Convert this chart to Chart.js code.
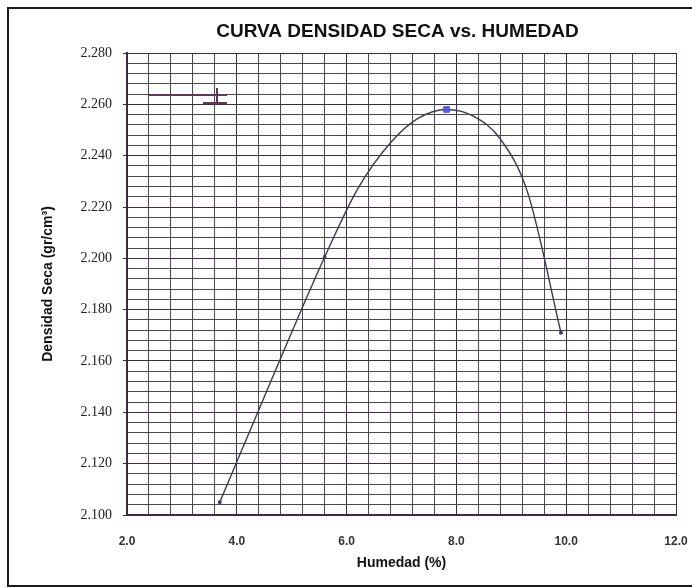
<!DOCTYPE html>
<html>
<head>
<meta charset="utf-8">
<script src="https://cdn.jsdelivr.net/npm/chart.js@4.4.1/dist/chart.umd.min.js"></script>
<style>
  html, body { margin: 0; padding: 0; background: #fff; }
  #wrap { position: relative; width: 692px; height: 588px; overflow: hidden; }
  #frame { position: absolute; left: 7px; top: 7px; width: 700px; height: 576px; border: 2px solid #1c1c1c; }
  canvas { position: absolute; left: 0; top: 0; }
</style>
</head>
<body>
<div id="wrap">
  <div id="frame"></div>
  <canvas id="curvaChart" width="692" height="588"></canvas>
</div>
<script>
// Curva de compactacion: humedad (%) vs densidad seca (gr/cm3)
const humedadCurva = [3.69, 4.5, 5.6, 6.2, 6.8, 7.3, 7.82, 8.3, 8.8, 9.3, 9.905];
const densidadCurva = [2.105, 2.146, 2.2005, 2.227, 2.245, 2.2545, 2.258, 2.2555, 2.2465, 2.2255, 2.171];

// Puntos marcados sobre la curva
const humedadPuntos = [3.69, 5.6, 9.905];
const densidadPuntos = [2.105, 2.2005, 2.171];

// Densidad seca maxima
const humedadOptima = [7.82];
const densidadMaxima = [2.258];

const xTicks = ['2.0', '4.0', '6.0', '8.0', '10.0', '12.0'];
const yTicks = ['2.100', '2.120', '2.140', '2.160', '2.180', '2.200', '2.220', '2.240', '2.260', '2.280'];

const toXY = (xs, ys) => xs.map((x, i) => ({ x: x, y: ys[i] }));
const isMajorX = v => xTicks.includes(v.toFixed(1));
const isMajorY = v => yTicks.includes(v.toFixed(3));

// titulo centrado sobre el area de trazado
const tituloCentrado = {
    id: 'tituloCentrado',
    afterDraw(chart) {
        const { ctx, chartArea } = chart;
        ctx.save();
        ctx.font = 'bold 19px "Liberation Sans", Arial, sans-serif';
        ctx.fillStyle = '#111';
        ctx.textAlign = 'center';
        ctx.textBaseline = 'middle';
        ctx.fillText('CURVA DENSIDAD SECA vs. HUMEDAD', (chartArea.left + chartArea.right) / 2 - 4, 32);
        ctx.restore();
    }
};

// restos de la leyenda en la esquina superior izquierda
const restoLeyenda = {
    id: 'restoLeyenda',
    afterDatasetsDraw(chart) {
        const { ctx, chartArea } = chart;
        const l = chartArea.left, t = chartArea.top;
        ctx.save();
        ctx.strokeStyle = '#5e3a58';
        ctx.lineWidth = 2;
        ctx.beginPath();
        ctx.moveTo(l + 22, t + 42); ctx.lineTo(l + 100, t + 42);
        ctx.moveTo(l + 76, t + 50); ctx.lineTo(l + 100, t + 50);
        ctx.moveTo(l + 90, t + 35); ctx.lineTo(l + 90, t + 50);
        ctx.stroke();
        ctx.restore();
    }
};

const ctxCurva = document.getElementById('curvaChart').getContext('2d');
const curvaChart = new Chart(ctxCurva, {
    type: 'scatter',
    data: {
        datasets: [{
            label: 'Curva',
            data: toXY(humedadCurva, densidadCurva),
            showLine: true,
            cubicInterpolationMode: 'monotone',
            borderColor: '#3b3b4d',
            borderWidth: 1.4,
            pointRadius: 0,
            order: 2
        }, {
            label: 'Puntos',
            data: toXY(humedadPuntos, densidadPuntos),
            pointStyle: 'rect',
            pointRadius: 1.8,
            backgroundColor: '#3d3d66',
            borderColor: '#3d3d66',
            order: 1
        }, {
            label: 'Maximo',
            data: toXY(humedadOptima, densidadMaxima),
            pointStyle: 'rect',
            pointRadius: 4,
            backgroundColor: '#5a58e0',
            borderColor: '#5a58e0',
            order: 0
        }]
    },
    options: {
        responsive: false,
        animation: false,
        layout: { padding: { left: 0, top: 53, right: 16, bottom: 0 } },
        plugins: {
            legend: { display: false },
            tooltip: { enabled: false }
        },
        scales: {
            x: {
                type: 'linear',
                min: 2,
                max: 12,
                afterFit: s => { s.height = 73; },
                border: { color: '#3e2a3c', width: 2 },
                grid: {
                    color: c => c.tick && isMajorX(c.tick.value) ? '#3a2c3a' : '#4a4a4a',
                    lineWidth: 1,
                    tickLength: 18,
                    tickColor: 'rgba(0,0,0,0)'
                },
                ticks: {
                    stepSize: 0.4,
                    autoSkip: false,
                    maxRotation: 0,
                    padding: 1,
                    color: '#333',
                    font: { family: '"Liberation Sans", Arial, sans-serif', size: 12, weight: 'bold' },
                    callback: v => isMajorX(v) ? v.toFixed(1) : ''
                },
                title: {
                    display: true,
                    text: 'Humedad (%)',
                    color: '#111',
                    padding: { top: 0, bottom: 16 },
                    font: { family: '"Liberation Sans", Arial, sans-serif', size: 14, weight: 'bold' }
                }
            },
            y: {
                type: 'linear',
                min: 2.1,
                max: 2.28,
                afterFit: s => { s.width = 127; },
                border: { color: '#3e2a3c', width: 2 },
                grid: {
                    color: c => c.tick && isMajorY(c.tick.value) ? '#3a2c3a' : '#4a4a4a',
                    lineWidth: 1,
                    tickLength: 4,
                    tickColor: c => c.tick && isMajorY(c.tick.value) ? '#3a2c3a' : 'rgba(0,0,0,0)'
                },
                ticks: {
                    stepSize: 0.004,
                    autoSkip: false,
                    padding: 11,
                    color: '#222',
                    font: { family: '"Liberation Serif", "Times New Roman", serif', size: 14 },
                    callback: v => isMajorY(v) ? v.toFixed(3) : ''
                },
                title: {
                    display: true,
                    text: 'Densidad Seca (gr/cm³)',
                    color: '#111',
                    padding: { top: 40, bottom: 0 },
                    font: { family: '"Liberation Sans", Arial, sans-serif', size: 14, weight: 'bold' }
                }
            }
        }
    },
    plugins: [tituloCentrado, restoLeyenda]
});
</script>
</body>
</html>
